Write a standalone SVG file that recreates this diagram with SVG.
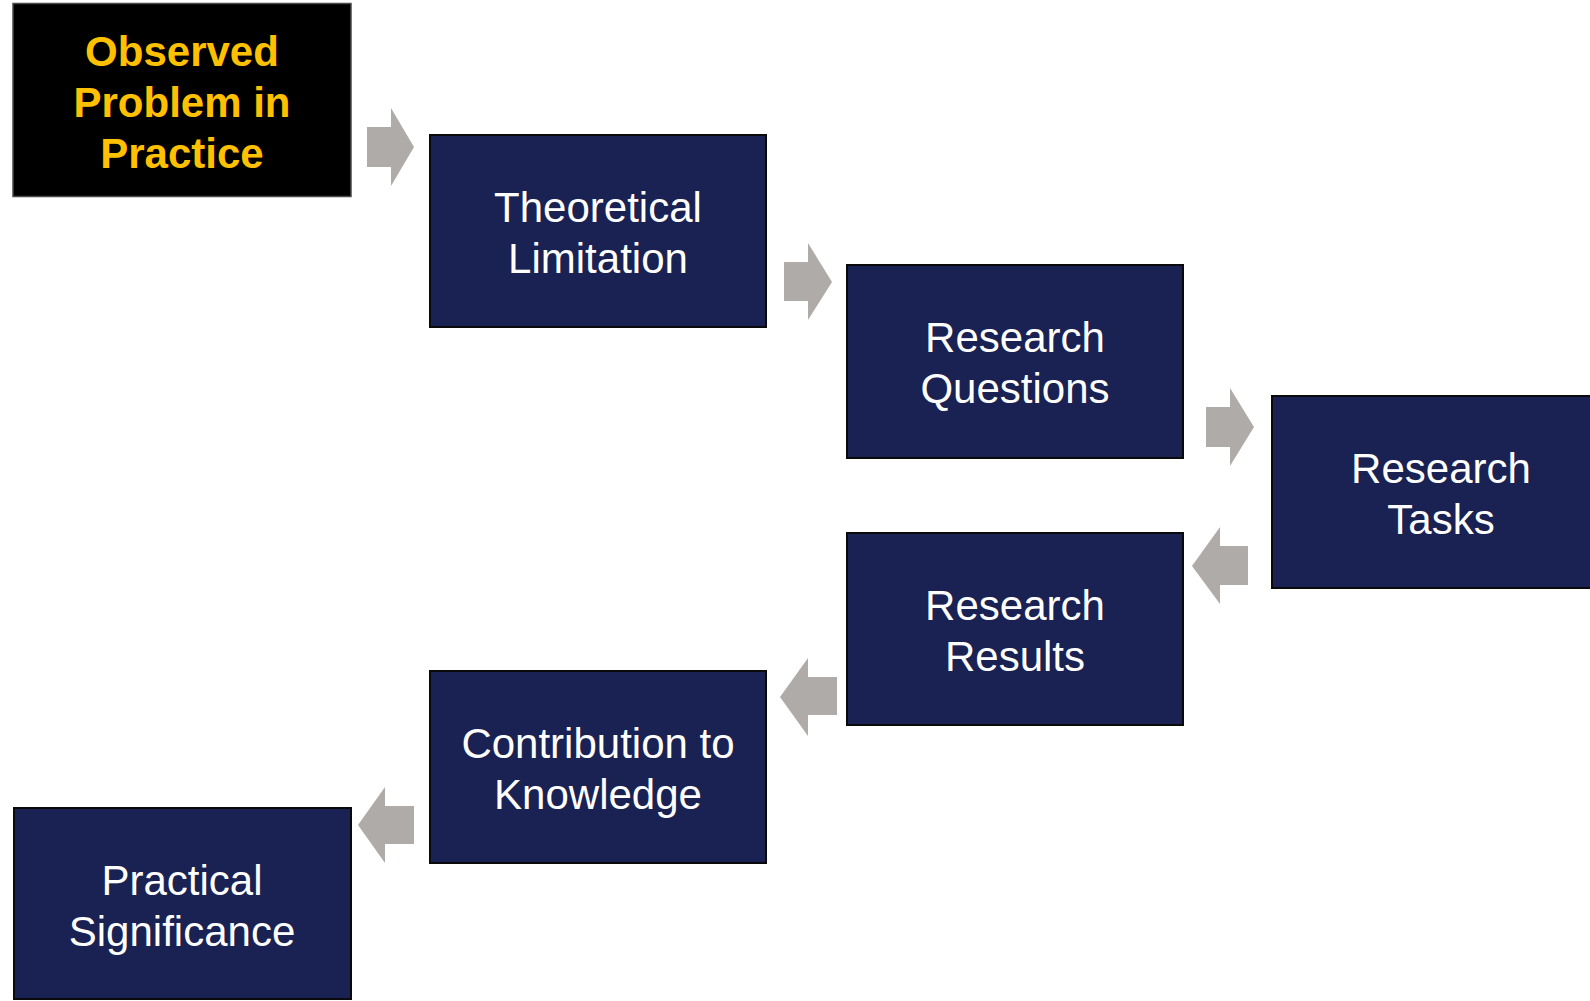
<svg xmlns="http://www.w3.org/2000/svg" width="1590" height="1001" viewBox="0 0 1590 1001">
<style>
.box{fill:#1a2253;stroke:#0a0a0a;stroke-width:2}
.obs{fill:#000000;stroke:#4a4a4a;stroke-width:1.5}
.t{font-family:"Liberation Sans",Arial,sans-serif;font-size:42px;fill:#ffffff;text-anchor:middle}
.ty{font-family:"Liberation Sans",Arial,sans-serif;font-size:42px;font-weight:bold;fill:#ffc000;text-anchor:middle}
.arr{fill:#afaba9}
</style>
<rect width="1590" height="1001" fill="#ffffff"/>
<g id="connectors">
<polygon class="arr" points="367,127 391,127 391,108 414,147 391,186 391,167 367,167"/>
<polygon class="arr" points="784,262 808,262 808,243 832,282 808,320 808,301 784,301"/>
<polygon class="arr" points="1206,407 1230,407 1230,388 1254,427 1230,466 1230,447 1206,447"/>
<polygon class="arr" points="1248,546 1220,546 1220,527 1192,566 1220,604 1220,585 1248,585"/>
<polygon class="arr" points="837,677 808,677 808,658 780,697 808,736 808,715 837,715"/>
<polygon class="arr" points="414,806 385,806 385,787 358,825 385,863 385,844 414,844"/>
</g>
<g id="observed">
<rect class="obs" x="13" y="3.5" width="338" height="193"/>
<text class="ty" x="182" y="66">Observed</text>
<text class="ty" x="182" y="117">Problem in</text>
<text class="ty" x="182" y="168">Practice</text>
</g>
<g id="theoretical">
<rect class="box" x="430" y="135" width="336" height="192"/>
<text class="t" x="598" y="222">Theoretical</text>
<text class="t" x="598" y="273">Limitation</text>
</g>
<g id="questions">
<rect class="box" x="847" y="265" width="336" height="193"/>
<text class="t" x="1015" y="352">Research</text>
<text class="t" x="1015" y="403">Questions</text>
</g>
<g id="tasks">
<rect class="box" x="1272" y="396" width="340" height="192"/>
<text class="t" x="1441" y="483">Research</text>
<text class="t" x="1441" y="534">Tasks</text>
</g>
<g id="results">
<rect class="box" x="847" y="533" width="336" height="192"/>
<text class="t" x="1015" y="620">Research</text>
<text class="t" x="1015" y="671">Results</text>
</g>
<g id="contribution">
<rect class="box" x="430" y="671" width="336" height="192"/>
<text class="t" x="598" y="758">Contribution to</text>
<text class="t" x="598" y="809">Knowledge</text>
</g>
<g id="practical">
<rect class="box" x="14" y="808" width="337" height="191"/>
<text class="t" x="182" y="895">Practical</text>
<text class="t" x="182" y="946">Significance</text>
</g>
</svg>
